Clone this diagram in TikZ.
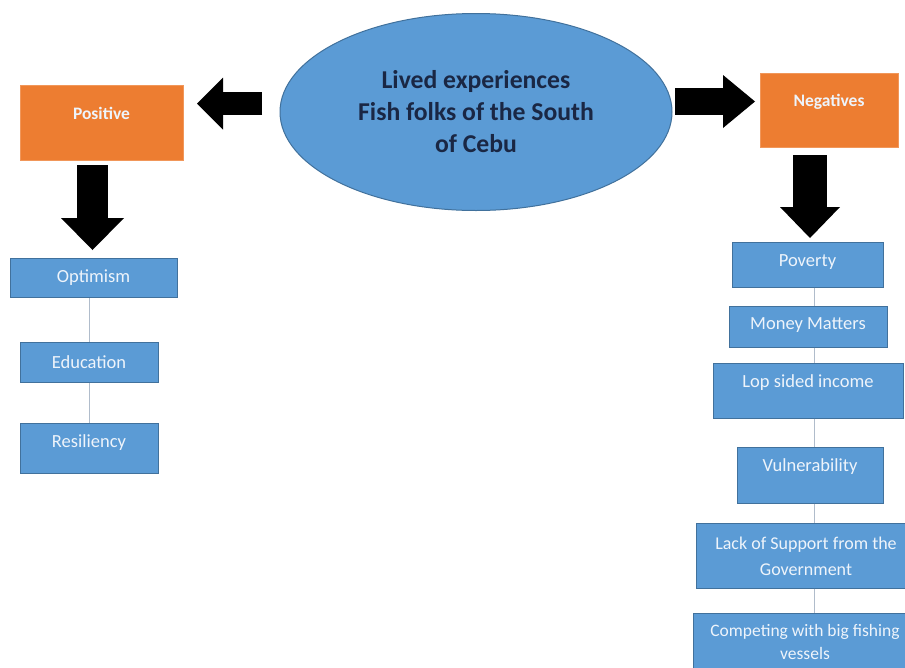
\documentclass[tikz,border=0pt]{standalone}
\usepackage{fontspec}
\setmainfont{Carlito}
\usetikzlibrary{arrows.meta,shapes.geometric}
\definecolor{boxblue}{HTML}{5B9BD5}
\definecolor{edgeblue}{HTML}{41719C}
\definecolor{orng}{HTML}{ED7D31}
\definecolor{navy}{HTML}{1A2744}
\definecolor{linec}{HTML}{B0BCCB}
\definecolor{boxtext}{HTML}{EEF4FB}
\begin{document}
\begin{tikzpicture}[x=1pt,y=-1pt,
  bluebox/.style={draw=edgeblue, line width=1pt, fill=boxblue, inner sep=0pt},
  orangebox/.style={draw=orng!80!white, line width=1pt, fill=orng, inner sep=0pt},
  boxlabel/.style={text=boxtext, font=\fontsize{18.5}{26}\selectfont, align=center, inner sep=0pt},
  headlabel/.style={text=boxtext, font=\bfseries\fontsize{17.5}{21}\selectfont, inner sep=0pt},
  conn/.style={draw=linec, line width=1pt},
]
\useasboundingbox (0,0) rectangle (905,667);
\clip (0,0) rectangle (905,667);
\fill[white] (0,0) rectangle (905,667);

% central ellipse
\node[ellipse, draw=edgeblue, line width=1pt, fill=boxblue, minimum width=392pt, minimum height=197pt, inner sep=0pt] (centre) at (476,112) {};
\node[text=navy, font=\bfseries\fontsize{25.7}{32}\selectfont, align=center, inner sep=0pt] (centreT) at (476,112) {Lived experiences\\Fish folks of the South\\of Cebu};

% heading boxes
\node[orangebox, minimum width=163pt, minimum height=75pt] (pos) at (101.5,122.5) {};
\node[headlabel] (posT) at (101.5,113) {Positive};
\node[orangebox, minimum width=138pt, minimum height=74pt] (neg) at (829,110) {};
\node[headlabel] (negT) at (829,102) {Negatives};

% block arrows
\coordinate (la1) at (262,103.5);
\coordinate (la2) at (197,103.5);
\draw[line width=23pt, -{Triangle[width=52pt,length=26pt,line width=0pt]}] (la1) -- (la2);
\coordinate (ra1) at (675,101.5);
\coordinate (ra2) at (755,101.5);
\draw[line width=27pt, -{Triangle[width=53pt,length=32pt,line width=0pt]}] (ra1) -- (ra2);
\coordinate (ld1) at (92.5,165);
\coordinate (ld2) at (92.5,250);
\draw[line width=31pt, -{Triangle[width=63pt,length=32pt,line width=0pt]}] (ld1) -- (ld2);
\coordinate (rd1) at (810,155);
\coordinate (rd2) at (810,238);
\draw[line width=34pt, -{Triangle[width=60pt,length=31pt,line width=0pt]}] (rd1) -- (rd2);

% left list
\node[bluebox, minimum width=167pt, minimum height=39pt] (opt) at (93.5,277.5) {};
\node[boxlabel] (optT) at (93.5,278) {Optimism};
\node[bluebox, minimum width=138pt, minimum height=40pt] (edu) at (89,362) {};
\node[boxlabel] (eduT) at (89,362) {Education};
\node[bluebox, minimum width=138pt, minimum height=50pt] (res) at (89,448) {};
\node[boxlabel] (resT) at (89,443) {Resiliency};
\draw[conn] (edu.north) -- (edu.north |- opt.south);
\draw[conn] (res.north) -- (res.north |- edu.south);

% right list
\node[bluebox, minimum width=151pt, minimum height=45pt] (pov) at (807.5,264.5) {};
\node[boxlabel] (povT) at (807.5,262) {Poverty};
\node[bluebox, minimum width=158pt, minimum height=41pt] (mon) at (808,326.5) {};
\node[boxlabel] (monT) at (808,325) {Money Matters};
\node[bluebox, minimum width=190pt, minimum height=55pt] (lop) at (808,390.5) {};
\node[boxlabel] (lopT) at (808,383) {Lop sided income};
\node[bluebox, minimum width=146pt, minimum height=56pt] (vul) at (810,475) {};
\node[boxlabel] (vulT) at (810,467) {Vulnerability};
\node[bluebox, minimum width=224pt, minimum height=65pt] (lack) at (808,555.5) {};
\node[boxlabel, font=\fontsize{18}{26}\selectfont] (lackT) at (806,556.5) {Lack of Support from the\\Government};
\node[bluebox, minimum width=230pt, minimum height=67pt] (comp) at (808,646.5) {};
\node[boxlabel, font=\fontsize{17.5}{23}\selectfont, anchor=south] (compT) at (805,660) {Competing with big fishing\\vessels};

\coordinate (rx) at (814,0);
\draw[conn] (pov.south -| rx) -- (mon.north -| rx);
\draw[conn] (mon.south -| rx) -- (lop.north -| rx);
\draw[conn] (lop.south -| rx) -- (vul.north -| rx);
\draw[conn] (vul.south -| rx) -- (lack.north -| rx);
\draw[conn] (lack.south -| rx) -- (comp.north -| rx);
\end{tikzpicture}
\end{document}
